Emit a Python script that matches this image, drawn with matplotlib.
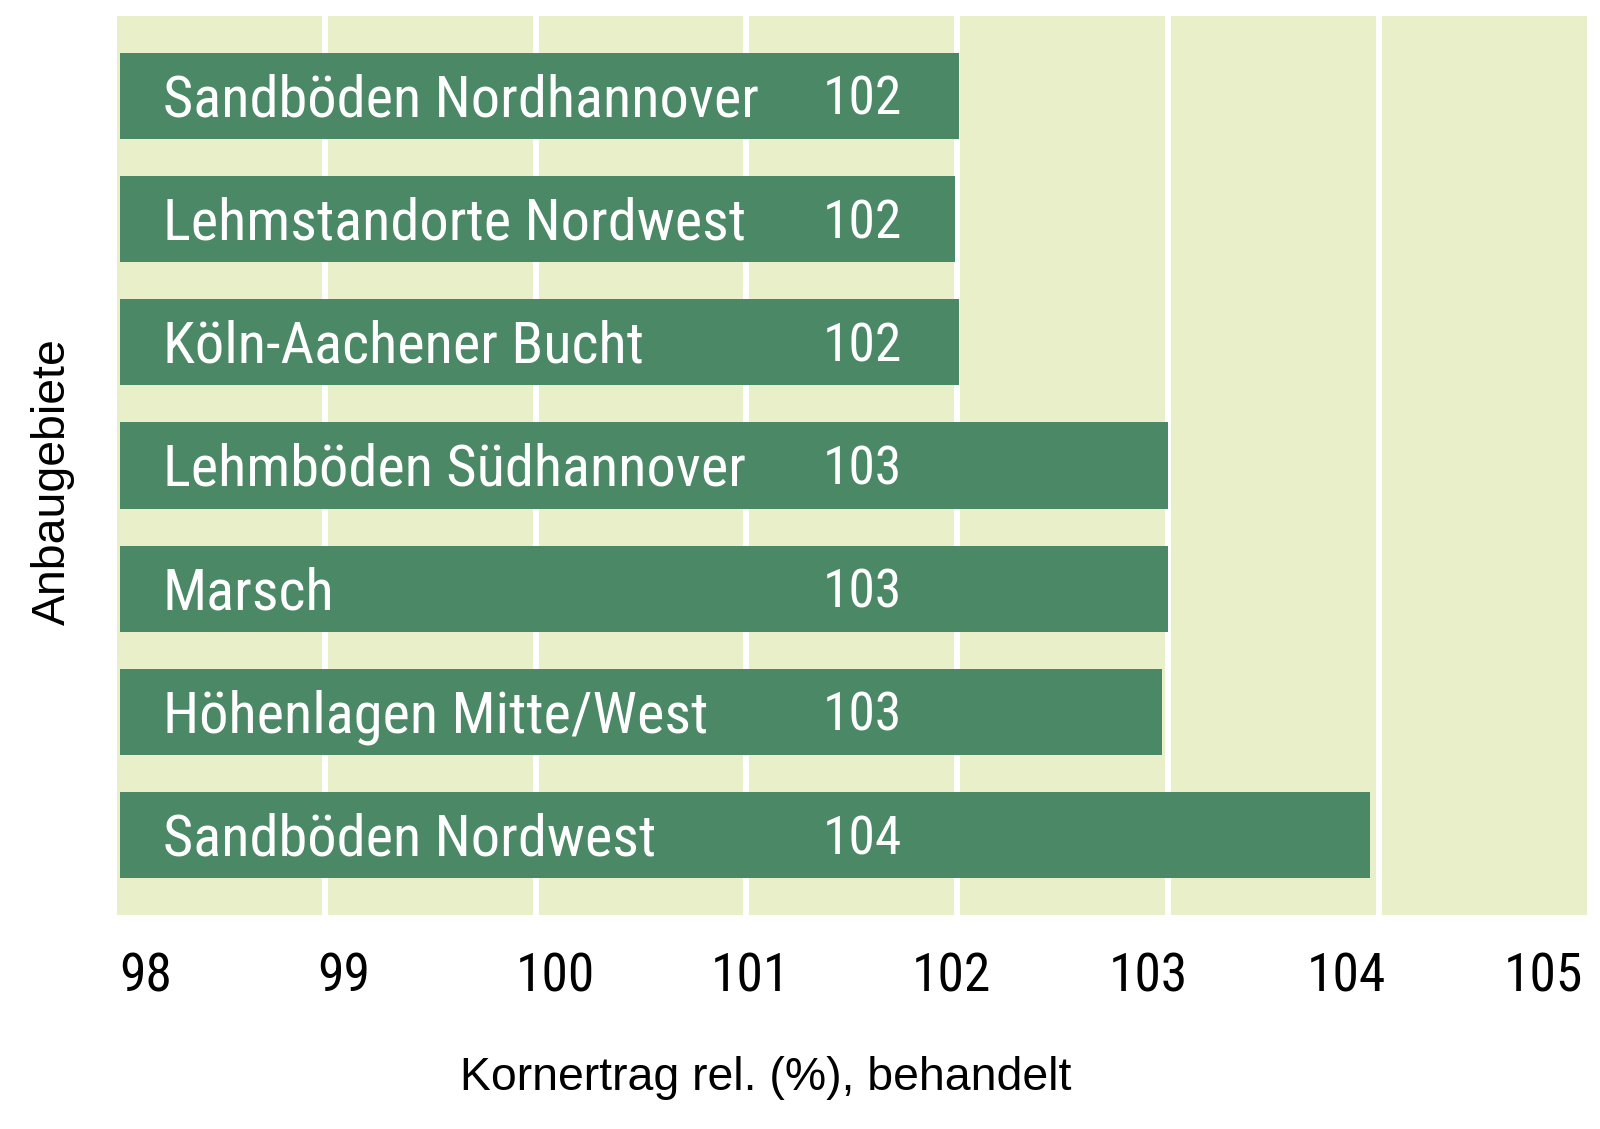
import numpy as np
import matplotlib
matplotlib.use("Agg")
import matplotlib.pyplot as plt
import matplotlib.transforms as mtransforms
from matplotlib import font_manager as fm

# ---- data ----
regions = [
    "Sandböden Nordhannover",
    "Lehmstandorte Nordwest",
    "Köln-Aachener Bucht",
    "Lehmböden Südhannover",
    "Marsch",
    "Höhenlagen Mitte/West",
    "Sandböden Nordwest",
]
values = [102.01, 101.99, 102.01, 103.0, 103.0, 102.97, 103.96]
value_labels = ["102", "102", "102", "103", "103", "103", "104"]
grid_values = [99, 100, 101, 102, 103, 104]
tick_labels = ["98", "99", "100", "101", "102", "103", "104", "105"]
x_label = "Kornertrag rel. (%), behandelt"
y_label = "Anbaugebiete"

# ---- fonts ----
available = {f.name for f in fm.fontManager.ttflist}
narrow = None
for cand in ["Roboto Condensed", "Liberation Sans Narrow", "DejaVu Sans Condensed", "Open Sans Condensed"]:
    if cand in available:
        narrow = cand
        break
narrow_kw = {"family": [narrow, "DejaVu Sans"]} if narrow else {"family": "DejaVu Sans", "stretch": "condensed"}
regular = "Liberation Sans" if "Liberation Sans" in available else "DejaVu Sans"

BAR = "#4a8866"
BG = "#e9f0c9"

W, H = 1600, 1129
fig = plt.figure(figsize=(W / 100, H / 100), dpi=100)
ax = fig.add_axes([117.3 / W, (H - 915) / H, (1586.5 - 117.3) / W, (915 - 16) / H])
ax.set_facecolor(BG)

y = np.arange(len(regions))
bar_start = 98.027  # bars begin a hair inside the plot background, as in the original
ax.barh(y, np.array(values) - bar_start, left=bar_start, height=0.7, color=BAR,
        edgecolor="none", zorder=2)

ax.set_xlim(98.014, 104.987)
ax.set_ylim(len(regions) - 1 + 0.649, -0.649)

# white vertical gridlines at the integer values
ax.set_xticks(grid_values)
ax.set_xticklabels([])
ax.tick_params(axis="x", which="major", length=0)
ax.grid(axis="x", which="major", color="white", linewidth=4.3, zorder=1)
ax.set_axisbelow(True)

# tick labels are spread (justified) across the axis width as in the original
label_pos = [98.150, 99.090, 100.092, 101.017, 101.971, 102.908, 103.850, 104.783]
ax.set_xticks(label_pos, minor=True)
ax.set_xticklabels(tick_labels, minor=True, fontsize=38.5, color="black", **narrow_kw)
ax.tick_params(axis="x", which="minor", length=0, pad=26)

ax.set_yticks([])
for s in ax.spines.values():
    s.set_visible(False)

trans = mtransforms.blended_transform_factory(ax.transAxes, ax.transData)
trans_up = mtransforms.offset_copy(trans, fig=fig, y=1, units="dots")
for i, (name, vl) in enumerate(zip(regions, value_labels)):
    ax.text(0.0311, i, name, transform=trans_up, color="white", fontsize=42,
            va="center_baseline", ha="left", zorder=3, **narrow_kw)
    ax.text(0.4803, i, vl, transform=trans_up, color="white", fontsize=38.5,
            va="center_baseline", ha="left", zorder=3, **narrow_kw)

fig.text(766 / W, (H - 1090) / H, x_label, ha="center", va="baseline",
         fontsize=33.4, family=regular, color="black")
fig.text(52.5 / W, 1 - 482 / H, y_label, rotation=90, ha="center", va="center",
         fontsize=33.4, family=regular, color="black")

fig.savefig("out.png", dpi=100, facecolor="white")
